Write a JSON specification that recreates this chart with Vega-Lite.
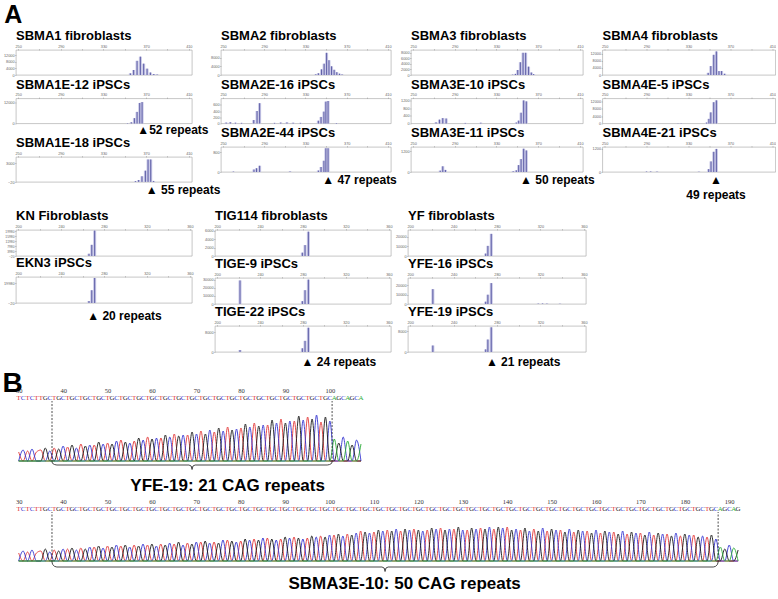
{
"$schema": "https://vega.github.io/schema/vega-lite/v6.json",
"background": "white",
"padding": {"left": 2, "top": 2, "right": 0, "bottom": 0},
"config": {
  "view": {"stroke": "#a0a0a0", "strokeWidth": 0.6},
  "font": "Liberation Sans",
  "title": {"font": "Liberation Sans", "fontWeight": "bold", "fontSize": 13, "anchor": "start", "frame": "group", "offset": 1, "color": "#000"},
  "axis": {"labelFontSize": 3.8, "labelColor": "#666", "tickColor": "#999", "tickSize": 1.5, "tickWidth": 0.5, "domain": false, "grid": false, "labelPadding": 0.5, "labelFlush": false, "labelOverlap": false},
  "text": {"font": "Liberation Sans"}
},
"datasets": {
  "peaks": [
    {"s":"a1","x":355.2,"h":1000},{"s":"a1","x":358.3,"h":3000},{"s":"a1","x":361.5,"h":8500},{"s":"a1","x":364.6,"h":11000},{"s":"a1","x":367.7,"h":6800},{"s":"a1","x":370.9,"h":3800},{"s":"a1","x":374,"h":1500},{"s":"a1","x":377.2,"h":600},{"s":"a1","x":380.3,"h":300},
    {"s":"a2","x":352.5,"h":200},{"s":"a2","x":356.1,"h":700},{"s":"a2","x":359,"h":3000},{"s":"a2","x":361.5,"h":6500},{"s":"a2","x":364,"h":11500},{"s":"a2","x":366.2,"h":12000},
    {"s":"a3","x":360,"h":120},{"s":"a3","x":363,"h":300},{"s":"a3","x":366.1,"h":900},{"s":"a3","x":369.3,"h":1800},{"s":"a3","x":371.8,"h":3600},{"s":"a3","x":374.3,"h":3600},{"s":"a3","x":377,"h":150},
    {"s":"a4","x":340,"h":300},{"s":"a4","x":342.5,"h":800},{"s":"a4","x":345.6,"h":2600},{"s":"a4","x":348.1,"h":5200},{"s":"a4","x":350.5,"h":10200},{"s":"a4","x":352.8,"h":6800},{"s":"a4","x":355.3,"h":4000},{"s":"a4","x":357.8,"h":2400},{"s":"a4","x":360.4,"h":1300},{"s":"a4","x":363,"h":600},{"s":"a4","x":365.5,"h":250},
    {"s":"a5","x":253,"h":30},{"s":"a5","x":257,"h":40},{"s":"a5","x":262,"h":25},{"s":"a5","x":268,"h":20},{"s":"a5","x":279.8,"h":110},{"s":"a5","x":283,"h":400},{"s":"a5","x":285.5,"h":650},{"s":"a5","x":300,"h":20},{"s":"a5","x":306,"h":30},{"s":"a5","x":312,"h":35},{"s":"a5","x":318,"h":25},{"s":"a5","x":325,"h":20},{"s":"a5","x":342.5,"h":90},{"s":"a5","x":345.1,"h":210},{"s":"a5","x":347.9,"h":380},{"s":"a5","x":349.8,"h":700},{"s":"a5","x":351.9,"h":720},{"s":"a5","x":360,"h":15},
    {"s":"a6","x":260,"h":15},{"s":"a6","x":280,"h":100},{"s":"a6","x":282.5,"h":150},{"s":"a6","x":285.5,"h":250},{"s":"a6","x":315,"h":20},{"s":"a6","x":342.5,"h":60},{"s":"a6","x":345.1,"h":200},{"s":"a6","x":347.9,"h":450},{"s":"a6","x":349.8,"h":950},{"s":"a6","x":351.9,"h":950},
    {"s":"a7","x":345.5,"h":120},{"s":"a7","x":348.2,"h":400},{"s":"a7","x":350.4,"h":1800},{"s":"a7","x":352.9,"h":4600},{"s":"a7","x":355.5,"h":8000},{"s":"a7","x":358,"h":8000},{"s":"a7","x":360.8,"h":3000},{"s":"a7","x":363.4,"h":900},{"s":"a7","x":365.6,"h":300},
    {"s":"a8","x":272,"h":60},{"s":"a8","x":275.3,"h":200},{"s":"a8","x":278.5,"h":280},{"s":"a8","x":281.7,"h":260},{"s":"a8","x":300,"h":30},{"s":"a8","x":315,"h":40},{"s":"a8","x":349,"h":50},{"s":"a8","x":351.3,"h":150},{"s":"a8","x":353.6,"h":560},{"s":"a8","x":356.1,"h":1200},{"s":"a8","x":358.6,"h":1150},
    {"s":"a9","x":276,"h":80},{"s":"a9","x":278.5,"h":330},{"s":"a9","x":281,"h":120},{"s":"a9","x":346,"h":40},{"s":"a9","x":349,"h":100},{"s":"a9","x":351.3,"h":400},{"s":"a9","x":353.6,"h":750},{"s":"a9","x":356.1,"h":1350},{"s":"a9","x":358.6,"h":1250},
    {"s":"a10","x":348.8,"h":1200},{"s":"a10","x":351.3,"h":5000},{"s":"a10","x":354.1,"h":11300},{"s":"a10","x":356.6,"h":13200},{"s":"a10","x":359.1,"h":2200},{"s":"a10","x":361.6,"h":2200},{"s":"a10","x":364.5,"h":700},
    {"s":"a11","x":320,"h":120},{"s":"a11","x":323,"h":150},{"s":"a11","x":347.3,"h":500},{"s":"a11","x":349.5,"h":2500},{"s":"a11","x":351.3,"h":6000},{"s":"a11","x":354.1,"h":11500},{"s":"a11","x":356.6,"h":12500},
    {"s":"a12","x":290,"h":20},{"s":"a12","x":294,"h":25},{"s":"a12","x":300,"h":20},{"s":"a12","x":340,"h":15},{"s":"a12","x":349.3,"h":150},{"s":"a12","x":351.5,"h":550},{"s":"a12","x":354.1,"h":1050},{"s":"a12","x":356.6,"h":1200},
    {"s":"k1","x":266,"h":1800},{"s":"k1","x":268.6,"h":9000},{"s":"k1","x":271.3,"h":20500},
    {"s":"k2","x":266,"h":2000},{"s":"k2","x":268.6,"h":13000},{"s":"k2","x":271.3,"h":25500},
    {"s":"t1","x":279.4,"h":800},{"s":"t1","x":281.9,"h":2600},{"s":"t1","x":285,"h":5800},
    {"s":"t2","x":221.3,"h":29000},{"s":"t2","x":279.4,"h":3500},{"s":"t2","x":281.9,"h":17000},{"s":"t2","x":285,"h":30000},
    {"s":"t3","x":221.3,"h":800},{"s":"t3","x":279.4,"h":1500},{"s":"t3","x":281.9,"h":4500},{"s":"t3","x":285,"h":9800},
    {"s":"y1","x":269.6,"h":2500},{"s":"y1","x":271.6,"h":10500},{"s":"y1","x":274.7,"h":23000},
    {"s":"y2","x":220.9,"h":16000},{"s":"y2","x":269.6,"h":2500},{"s":"y2","x":271.6,"h":10000},{"s":"y2","x":274.7,"h":22500},{"s":"y2","x":318,"h":400},{"s":"y2","x":322,"h":500},{"s":"y2","x":326,"h":400},{"s":"y2","x":338,"h":300},
    {"s":"y3","x":220.9,"h":2500},{"s":"y3","x":269.6,"h":1000},{"s":"y3","x":271.6,"h":4800},{"s":"y3","x":274.7,"h":9500}
  ],
  "marks": [
    {"s":"a2","x":366,"t":"\u25b252 repeats"},
    {"s":"a3","x":374,"t":"\u25b2 55 repeats"},
    {"s":"a6","x":350.7,"t":"\u25b2 47 repeats"},
    {"s":"a9","x":357,"t":"\u25b2 50 repeats"},
    {"s":"a12","x":356.3,"t":"\u25b2\n49 repeats"},
    {"s":"k2","x":268.6,"t":"\u25b2 20 repeats"},
    {"s":"t3","x":283,"t":"\u25b2 24 repeats"},
    {"s":"y3","x":274,"t":"\u25b2 21 repeats"}
  ],
  "seq1": [
    {"p":30,"b":"T","h":9},{"p":31,"b":"C","h":11},{"p":32,"b":"T","h":10},{"p":33,"b":"C","h":12},{"p":34,"b":"T","h":9},{"p":35,"b":"T","h":11},{"p":36,"b":"G","h":13},{"p":37,"b":"C","h":10},
    {"p":38,"b":"T","h":13},{"p":39,"b":"G","h":12},{"p":40,"b":"C","h":15},
    {"p":41,"b":"T","h":14},{"p":42,"b":"G","h":16},{"p":43,"b":"C","h":13},
    {"p":44,"b":"T","h":17},{"p":45,"b":"G","h":15},{"p":46,"b":"C","h":16},
    {"p":47,"b":"T","h":16},{"p":48,"b":"G","h":19},{"p":49,"b":"C","h":17},
    {"p":50,"b":"T","h":18},{"p":51,"b":"G","h":17},{"p":52,"b":"C","h":20},
    {"p":53,"b":"T","h":21},{"p":54,"b":"G","h":19},{"p":55,"b":"C","h":18},
    {"p":56,"b":"T","h":20},{"p":57,"b":"G","h":23},{"p":58,"b":"C","h":21},
    {"p":59,"b":"T","h":24},{"p":60,"b":"G","h":22},{"p":61,"b":"C","h":23},
    {"p":62,"b":"T","h":23},{"p":63,"b":"G","h":26},{"p":64,"b":"C","h":24},
    {"p":65,"b":"T","h":27},{"p":66,"b":"G","h":25},{"p":67,"b":"C","h":26},
    {"p":68,"b":"T","h":26},{"p":69,"b":"G","h":29},{"p":70,"b":"C","h":27},
    {"p":71,"b":"T","h":30},{"p":72,"b":"G","h":27},{"p":73,"b":"C","h":31},
    {"p":74,"b":"T","h":29},{"p":75,"b":"G","h":33},{"p":76,"b":"C","h":30},
    {"p":77,"b":"T","h":34},{"p":78,"b":"G","h":31},{"p":79,"b":"C","h":32},
    {"p":80,"b":"T","h":33},{"p":81,"b":"G","h":37},{"p":82,"b":"C","h":34},
    {"p":83,"b":"T","h":38},{"p":84,"b":"G","h":35},{"p":85,"b":"C","h":36},
    {"p":86,"b":"T","h":36},{"p":87,"b":"G","h":41},{"p":88,"b":"C","h":38},
    {"p":89,"b":"T","h":42},{"p":90,"b":"G","h":38},{"p":91,"b":"C","h":40},
    {"p":92,"b":"T","h":40},{"p":93,"b":"G","h":45},{"p":94,"b":"C","h":41},
    {"p":95,"b":"T","h":44},{"p":96,"b":"G","h":42},{"p":97,"b":"C","h":46},
    {"p":98,"b":"T","h":39},{"p":99,"b":"G","h":44},{"p":100,"b":"C","h":40},
    {"p":101,"b":"A","h":22},{"p":102,"b":"G","h":18},{"p":103,"b":"C","h":24},{"p":104,"b":"A","h":20},{"p":105,"b":"G","h":16},{"p":106,"b":"C","h":21},{"p":107,"b":"A","h":17}
  ],
  "seq2": [
    {"p":30,"b":"T","h":8},{"p":31,"b":"C","h":10},{"p":32,"b":"T","h":9},{"p":33,"b":"C","h":11},{"p":34,"b":"T","h":8},{"p":35,"b":"T","h":10},{"p":36,"b":"G","h":12},{"p":37,"b":"C","h":9},
    {"p":38,"b":"T","h":11},{"p":39,"b":"G","h":10},{"p":40,"b":"C","h":12},
    {"p":41,"b":"T","h":12},{"p":42,"b":"G","h":13},{"p":43,"b":"C","h":11},
    {"p":44,"b":"T","h":13},{"p":45,"b":"G","h":12},{"p":46,"b":"C","h":14},
    {"p":47,"b":"T","h":14},{"p":48,"b":"G","h":15},{"p":49,"b":"C","h":13},
    {"p":50,"b":"T","h":15},{"p":51,"b":"G","h":14},{"p":52,"b":"C","h":16},
    {"p":53,"b":"T","h":15},{"p":54,"b":"G","h":16},{"p":55,"b":"C","h":14},
    {"p":56,"b":"T","h":16},{"p":57,"b":"G","h":15},{"p":58,"b":"C","h":17},
    {"p":59,"b":"T","h":16},{"p":60,"b":"G","h":17},{"p":61,"b":"C","h":15},
    {"p":62,"b":"T","h":17},{"p":63,"b":"G","h":16},{"p":64,"b":"C","h":18},
    {"p":65,"b":"T","h":17},{"p":66,"b":"G","h":19},{"p":67,"b":"C","h":16},
    {"p":68,"b":"T","h":18},{"p":69,"b":"G","h":17},{"p":70,"b":"C","h":19},
    {"p":71,"b":"T","h":19},{"p":72,"b":"G","h":20},{"p":73,"b":"C","h":18},
    {"p":74,"b":"T","h":19},{"p":75,"b":"G","h":18},{"p":76,"b":"C","h":21},
    {"p":77,"b":"T","h":21},{"p":78,"b":"G","h":20},{"p":79,"b":"C","h":19},
    {"p":80,"b":"T","h":20},{"p":81,"b":"G","h":22},{"p":82,"b":"C","h":21},
    {"p":83,"b":"T","h":22},{"p":84,"b":"G","h":21},{"p":85,"b":"C","h":23},
    {"p":86,"b":"T","h":23},{"p":87,"b":"G","h":22},{"p":88,"b":"C","h":21},
    {"p":89,"b":"T","h":22},{"p":90,"b":"G","h":24},{"p":91,"b":"C","h":23},
    {"p":92,"b":"T","h":24},{"p":93,"b":"G","h":23},{"p":94,"b":"C","h":22},
    {"p":95,"b":"T","h":23},{"p":96,"b":"G","h":25},{"p":97,"b":"C","h":24},
    {"p":98,"b":"T","h":25},{"p":99,"b":"G","h":24},{"p":100,"b":"C","h":26},
    {"p":101,"b":"T","h":26},{"p":102,"b":"G","h":27},{"p":103,"b":"C","h":25},
    {"p":104,"b":"T","h":27},{"p":105,"b":"G","h":26},{"p":106,"b":"C","h":28},
    {"p":107,"b":"T","h":30},{"p":108,"b":"G","h":29},{"p":109,"b":"C","h":28},
    {"p":110,"b":"T","h":29},{"p":111,"b":"G","h":31},{"p":112,"b":"C","h":30},
    {"p":113,"b":"T","h":31},{"p":114,"b":"G","h":30},{"p":115,"b":"C","h":32},
    {"p":116,"b":"T","h":30},{"p":117,"b":"G","h":32},{"p":118,"b":"C","h":31},
    {"p":119,"b":"T","h":32},{"p":120,"b":"G","h":31},{"p":121,"b":"C","h":30},
    {"p":122,"b":"T","h":31},{"p":123,"b":"G","h":33},{"p":124,"b":"C","h":32},
    {"p":125,"b":"T","h":33},{"p":126,"b":"G","h":31},{"p":127,"b":"C","h":32},
    {"p":128,"b":"T","h":32},{"p":129,"b":"G","h":34},{"p":130,"b":"C","h":31},
    {"p":131,"b":"T","h":31},{"p":132,"b":"G","h":33},{"p":133,"b":"C","h":32},
    {"p":134,"b":"T","h":33},{"p":135,"b":"G","h":32},{"p":136,"b":"C","h":34},
    {"p":137,"b":"T","h":32},{"p":138,"b":"G","h":34},{"p":139,"b":"C","h":33},
    {"p":140,"b":"T","h":34},{"p":141,"b":"G","h":31},{"p":142,"b":"C","h":32},
    {"p":143,"b":"T","h":31},{"p":144,"b":"G","h":33},{"p":145,"b":"C","h":30},
    {"p":146,"b":"T","h":32},{"p":147,"b":"G","h":30},{"p":148,"b":"C","h":33},
    {"p":149,"b":"T","h":30},{"p":150,"b":"G","h":32},{"p":151,"b":"C","h":31},
    {"p":152,"b":"T","h":31},{"p":153,"b":"G","h":29},{"p":154,"b":"C","h":32},
    {"p":155,"b":"T","h":29},{"p":156,"b":"G","h":31},{"p":157,"b":"C","h":30},
    {"p":158,"b":"T","h":30},{"p":159,"b":"G","h":28},{"p":160,"b":"C","h":31},
    {"p":161,"b":"T","h":28},{"p":162,"b":"G","h":30},{"p":163,"b":"C","h":29},
    {"p":164,"b":"T","h":29},{"p":165,"b":"G","h":27},{"p":166,"b":"C","h":30},
    {"p":167,"b":"T","h":27},{"p":168,"b":"G","h":29},{"p":169,"b":"C","h":28},
    {"p":170,"b":"T","h":28},{"p":171,"b":"G","h":26},{"p":172,"b":"C","h":29},
    {"p":173,"b":"T","h":26},{"p":174,"b":"G","h":28},{"p":175,"b":"C","h":27},
    {"p":176,"b":"T","h":27},{"p":177,"b":"G","h":25},{"p":178,"b":"C","h":28},
    {"p":179,"b":"T","h":25},{"p":180,"b":"G","h":27},{"p":181,"b":"C","h":26},
    {"p":182,"b":"T","h":26},{"p":183,"b":"G","h":24},{"p":184,"b":"C","h":25},
    {"p":185,"b":"T","h":24},{"p":186,"b":"G","h":26},{"p":187,"b":"C","h":22},
    {"p":188,"b":"A","h":14},{"p":189,"b":"G","h":12},{"p":190,"b":"C","h":16},{"p":191,"b":"A","h":13},{"p":192,"b":"G","h":11}
  ],
  "bnd1": [{"p":37.5},{"p":100.5}],
  "bnd2": [{"p":37.5},{"p":187.5}],
  "brace1": [{"p":37.5,"y":-1},{"p":37.65,"y":-2.5},{"p":38.1,"y":-3.6},{"p":38.6,"y":-4},{"p":68.3,"y":-4},{"p":68.8,"y":-5},{"p":69,"y":-8.5},{"p":69.2,"y":-5},{"p":69.7,"y":-4},{"p":99.4,"y":-4},{"p":99.9,"y":-3.6},{"p":100.35,"y":-2.5},{"p":100.5,"y":-1}],
  "brace2": [{"p":37.5,"y":-1},{"p":37.65,"y":-3.5},{"p":38.1,"y":-5.4},{"p":38.6,"y":-6},{"p":111.8,"y":-6},{"p":112.3,"y":-7},{"p":112.5,"y":-10.5},{"p":112.7,"y":-7},{"p":113.2,"y":-6},{"p":186.4,"y":-6},{"p":186.9,"y":-5.4},{"p":187.35,"y":-3.5},{"p":187.5,"y":-1}]
},
"vconcat": [
 {
  "title": {"text": "A", "fontSize": 25, "frame": "bounds", "offset": 2, "dx": 1},
  "spacing": 7,
  "vconcat": [
   {"spacing": -20, "hconcat": [
    {"spacing": -0.5, "vconcat": [
     {"width":176,"height":25,"title":"SBMA1 fibroblasts","data":{"name":"peaks"},"transform":[{"filter":{"field":"s","equal":"a1"}}],
      "encoding":{"x":{"field":"x","type":"quantitative","scale":{"domain":[248,413],"nice":false,"zero":false},"axis":{"orient":"top","title":null,"values":[250,270,290,310,330,350,370,390,410],"labelExpr":"datum.value % 40 == 10 ? datum.label : ''"}}},
      "layer":[{"encoding":{"y":{"field":"h","type":"quantitative","scale":{"domain":[0,15000],"nice":false,"zero":false},"axis":{"title":null,"format":"d","values":[0,4000,8000,12000]}},"y2":{"datum":0}},
        "layer":[{"mark":{"type":"rule","color":"#c6c6e6","strokeWidth":3}},{"mark":{"type":"rule","color":"#5e5ea6","strokeWidth":1}}]}]},
     {"width":176,"height":25,"title":"SBMA1E-12 iPSCs","data":{"name":"peaks"},"transform":[{"filter":{"field":"s","equal":"a2"}}],
      "encoding":{"x":{"field":"x","type":"quantitative","scale":{"domain":[248,413],"nice":false,"zero":false},"axis":{"orient":"top","title":null,"values":[250,270,290,310,330,350,370,390,410],"labelExpr":"datum.value % 40 == 10 ? datum.label : ''"}}},
      "layer":[{"encoding":{"y":{"field":"h","type":"quantitative","scale":{"domain":[0,14000],"nice":false,"zero":false},"axis":{"title":null,"format":"d","values":[0,4000,8000,12000]}},"y2":{"datum":0}},
        "layer":[{"mark":{"type":"rule","color":"#c6c6e6","strokeWidth":3}},{"mark":{"type":"rule","color":"#5e5ea6","strokeWidth":1}}]},
       {"data":{"name":"marks"},"transform":[{"filter":{"field":"s","equal":"a2"}}],"mark":{"type":"text","align":"left","baseline":"top","dx":-4.6,"dy":1,"fontSize":12,"fontWeight":"bold","color":"#000"},"encoding":{"y":{"datum":0},"text":{"field":"t"}}}]},
     {"width":176,"height":25,"title":"SBMA1E-18 iPSCs","data":{"name":"peaks"},"transform":[{"filter":{"field":"s","equal":"a3"}}],
      "encoding":{"x":{"field":"x","type":"quantitative","scale":{"domain":[248,413],"nice":false,"zero":false},"axis":{"orient":"top","title":null,"values":[250,270,290,310,330,350,370,390,410],"labelExpr":"datum.value % 40 == 10 ? datum.label : ''"}}},
      "layer":[{"encoding":{"y":{"field":"h","type":"quantitative","scale":{"domain":[-20,4000],"nice":false,"zero":false},"axis":{"title":null,"format":"d","values":[-20,1000,2000,3000]}},"y2":{"datum":0}},
        "layer":[{"mark":{"type":"rule","color":"#c6c6e6","strokeWidth":3}},{"mark":{"type":"rule","color":"#5e5ea6","strokeWidth":1}}]},
       {"data":{"name":"marks"},"transform":[{"filter":{"field":"s","equal":"a3"}}],"mark":{"type":"text","align":"left","baseline":"top","dx":-4.6,"dy":3,"fontSize":12,"fontWeight":"bold","color":"#000"},"encoding":{"y":{"datum":0},"text":{"field":"t"}}}]}
    ]},
    {"spacing": 2, "hconcat": [
    {"spacing": -0.5, "vconcat": [
     {"width":170,"height":25,"title":"SBMA2 fibroblasts","data":{"name":"peaks"},"transform":[{"filter":{"field":"s","equal":"a4"}}],
      "encoding":{"x":{"field":"x","type":"quantitative","scale":{"domain":[248,413],"nice":false,"zero":false},"axis":{"orient":"top","title":null,"values":[250,270,290,310,330,350,370,390,410],"labelExpr":"datum.value % 40 == 10 ? datum.label : ''"}}},
      "layer":[{"encoding":{"y":{"field":"h","type":"quantitative","scale":{"domain":[0,11500],"nice":false,"zero":false},"axis":{"title":null,"format":"d","values":[0,4000,8000]}},"y2":{"datum":0}},
        "layer":[{"mark":{"type":"rule","color":"#c6c6e6","strokeWidth":3}},{"mark":{"type":"rule","color":"#5e5ea6","strokeWidth":1}}]}]},
     {"width":170,"height":25,"title":"SBMA2E-16 iPSCs","data":{"name":"peaks"},"transform":[{"filter":{"field":"s","equal":"a5"}}],
      "encoding":{"x":{"field":"x","type":"quantitative","scale":{"domain":[248,413],"nice":false,"zero":false},"axis":{"orient":"top","title":null,"values":[250,270,290,310,330,350,370,390,410],"labelExpr":"datum.value % 40 == 10 ? datum.label : ''"}}},
      "layer":[{"encoding":{"y":{"field":"h","type":"quantitative","scale":{"domain":[0,800],"nice":false,"zero":false},"axis":{"title":null,"format":"d","values":[0,200,400,600]}},"y2":{"datum":0}},
        "layer":[{"mark":{"type":"rule","color":"#c6c6e6","strokeWidth":3}},{"mark":{"type":"rule","color":"#5e5ea6","strokeWidth":1}}]}]},
     {"width":170,"height":25,"title":"SBMA2E-44 iPSCs","data":{"name":"peaks"},"transform":[{"filter":{"field":"s","equal":"a6"}}],
      "encoding":{"x":{"field":"x","type":"quantitative","scale":{"domain":[248,413],"nice":false,"zero":false},"axis":{"orient":"top","title":null,"values":[250,270,290,310,330,350,370,390,410],"labelExpr":"datum.value % 40 == 10 ? datum.label : ''"}}},
      "layer":[{"encoding":{"y":{"field":"h","type":"quantitative","scale":{"domain":[0,1000],"nice":false,"zero":false},"axis":{"title":null,"format":"d","values":[0,200,400,600,800]}},"y2":{"datum":0}},
        "layer":[{"mark":{"type":"rule","color":"#c6c6e6","strokeWidth":3}},{"mark":{"type":"rule","color":"#5e5ea6","strokeWidth":1}}]},
       {"data":{"name":"marks"},"transform":[{"filter":{"field":"s","equal":"a6"}}],"mark":{"type":"text","align":"left","baseline":"top","dx":-4.6,"dy":3,"fontSize":12,"fontWeight":"bold","color":"#000"},"encoding":{"y":{"datum":0},"text":{"field":"t"}}}]}
    ]},
    {"spacing": -5.5, "hconcat": [
    {"spacing": -0.5, "vconcat": [
     {"width":172,"height":25,"title":"SBMA3 fibroblasts","data":{"name":"peaks"},"transform":[{"filter":{"field":"s","equal":"a7"}}],
      "encoding":{"x":{"field":"x","type":"quantitative","scale":{"domain":[248,413],"nice":false,"zero":false},"axis":{"orient":"top","title":null,"values":[250,270,290,310,330,350,370,390,410],"labelExpr":"datum.value % 40 == 10 ? datum.label : ''"}}},
      "layer":[{"encoding":{"y":{"field":"h","type":"quantitative","scale":{"domain":[0,9000],"nice":false,"zero":false},"axis":{"title":null,"format":"d","values":[0,2000,4000,6000,8000]}},"y2":{"datum":0}},
        "layer":[{"mark":{"type":"rule","color":"#c6c6e6","strokeWidth":3}},{"mark":{"type":"rule","color":"#5e5ea6","strokeWidth":1}}]}]},
     {"width":172,"height":25,"title":"SBMA3E-10 iPSCs","data":{"name":"peaks"},"transform":[{"filter":{"field":"s","equal":"a8"}}],
      "encoding":{"x":{"field":"x","type":"quantitative","scale":{"domain":[248,413],"nice":false,"zero":false},"axis":{"orient":"top","title":null,"values":[250,270,290,310,330,350,370,390,410],"labelExpr":"datum.value % 40 == 10 ? datum.label : ''"}}},
      "layer":[{"encoding":{"y":{"field":"h","type":"quantitative","scale":{"domain":[0,1300],"nice":false,"zero":false},"axis":{"title":null,"format":"d","values":[0,400,800,1200]}},"y2":{"datum":0}},
        "layer":[{"mark":{"type":"rule","color":"#c6c6e6","strokeWidth":3}},{"mark":{"type":"rule","color":"#5e5ea6","strokeWidth":1}}]}]},
     {"width":172,"height":25,"title":"SBMA3E-11 iPSCs","data":{"name":"peaks"},"transform":[{"filter":{"field":"s","equal":"a9"}}],
      "encoding":{"x":{"field":"x","type":"quantitative","scale":{"domain":[248,413],"nice":false,"zero":false},"axis":{"orient":"top","title":null,"values":[250,270,290,310,330,350,370,390,410],"labelExpr":"datum.value % 40 == 10 ? datum.label : ''"}}},
      "layer":[{"encoding":{"y":{"field":"h","type":"quantitative","scale":{"domain":[0,1450],"nice":false,"zero":false},"axis":{"title":null,"format":"d","values":[0,400,800,1200]}},"y2":{"datum":0}},
        "layer":[{"mark":{"type":"rule","color":"#c6c6e6","strokeWidth":3}},{"mark":{"type":"rule","color":"#5e5ea6","strokeWidth":1}}]},
       {"data":{"name":"marks"},"transform":[{"filter":{"field":"s","equal":"a9"}}],"mark":{"type":"text","align":"left","baseline":"top","dx":-4.6,"dy":3,"fontSize":12,"fontWeight":"bold","color":"#000"},"encoding":{"y":{"datum":0},"text":{"field":"t"}}}]}
    ]},
    {"spacing": -0.5, "vconcat": [
     {"width":173,"height":25,"title":"SBMA4 fibroblasts","data":{"name":"peaks"},"transform":[{"filter":{"field":"s","equal":"a10"}}],
      "encoding":{"x":{"field":"x","type":"quantitative","scale":{"domain":[248,413],"nice":false,"zero":false},"axis":{"orient":"top","title":null,"values":[250,270,290,310,330,350,370,390,410],"labelExpr":"datum.value % 40 == 10 ? datum.label : ''"}}},
      "layer":[{"encoding":{"y":{"field":"h","type":"quantitative","scale":{"domain":[0,14000],"nice":false,"zero":false},"axis":{"title":null,"format":"d","values":[0,4000,8000,12000]}},"y2":{"datum":0}},
        "layer":[{"mark":{"type":"rule","color":"#c6c6e6","strokeWidth":3}},{"mark":{"type":"rule","color":"#5e5ea6","strokeWidth":1}}]}]},
     {"width":173,"height":25,"title":"SBMA4E-5 iPSCs","data":{"name":"peaks"},"transform":[{"filter":{"field":"s","equal":"a11"}}],
      "encoding":{"x":{"field":"x","type":"quantitative","scale":{"domain":[248,413],"nice":false,"zero":false},"axis":{"orient":"top","title":null,"values":[250,270,290,310,330,350,370,390,410],"labelExpr":"datum.value % 40 == 10 ? datum.label : ''"}}},
      "layer":[{"encoding":{"y":{"field":"h","type":"quantitative","scale":{"domain":[0,13500],"nice":false,"zero":false},"axis":{"title":null,"format":"d","values":[0,4000,8000,12000]}},"y2":{"datum":0}},
        "layer":[{"mark":{"type":"rule","color":"#c6c6e6","strokeWidth":3}},{"mark":{"type":"rule","color":"#5e5ea6","strokeWidth":1}}]}]},
     {"width":173,"height":25,"title":"SBMA4E-21 iPSCs","data":{"name":"peaks"},"transform":[{"filter":{"field":"s","equal":"a12"}}],
      "encoding":{"x":{"field":"x","type":"quantitative","scale":{"domain":[248,413],"nice":false,"zero":false},"axis":{"orient":"top","title":null,"values":[250,270,290,310,330,350,370,390,410],"labelExpr":"datum.value % 40 == 10 ? datum.label : ''"}}},
      "layer":[{"encoding":{"y":{"field":"h","type":"quantitative","scale":{"domain":[0,1300],"nice":false,"zero":false},"axis":{"title":null,"format":"d","values":[0,400,800,1200]}},"y2":{"datum":0}},
        "layer":[{"mark":{"type":"rule","color":"#c6c6e6","strokeWidth":3}},{"mark":{"type":"rule","color":"#5e5ea6","strokeWidth":1}}]},
       {"data":{"name":"marks"},"transform":[{"filter":{"field":"s","equal":"a12"}}],"mark":{"type":"text","align":"center","baseline":"top","dy":3,"fontSize":12,"fontWeight":"bold","color":"#000","lineBreak":"\n","lineHeight":15},"encoding":{"y":{"datum":0},"text":{"field":"t"}}}]}
    ]}
    ]}
    ]}
   ]},
   {"spacing": 8, "hconcat": [
    {"spacing": -2, "vconcat": [
     {"width":176,"height":26,"title":"KN Fibroblasts","data":{"name":"peaks"},"transform":[{"filter":{"field":"s","equal":"k1"}}],
      "encoding":{"x":{"field":"x","type":"quantitative","scale":{"domain":[198,362],"nice":false,"zero":false},"axis":{"orient":"top","title":null,"values":[200,220,240,260,280,300,320,340,360],"labelExpr":"datum.value % 40 == 0 ? datum.label : ''"}}},
      "layer":[{"encoding":{"y":{"field":"h","type":"quantitative","scale":{"domain":[-20,21000],"nice":false,"zero":false},"axis":{"title":null,"format":"d","labelFontSize":3.3,"values":[-20,3980,7980,11980,15980,19980]}},"y2":{"datum":0}},
        "layer":[{"mark":{"type":"rule","color":"#c6c6e6","strokeWidth":3}},{"mark":{"type":"rule","color":"#5e5ea6","strokeWidth":1}}]}]},
     {"width":176,"height":26,"title":"EKN3 iPSCs","data":{"name":"peaks"},"transform":[{"filter":{"field":"s","equal":"k2"}}],
      "encoding":{"x":{"field":"x","type":"quantitative","scale":{"domain":[198,362],"nice":false,"zero":false},"axis":{"orient":"top","title":null,"values":[200,220,240,260,280,300,320,340,360],"labelExpr":"datum.value % 40 == 0 ? datum.label : ''"}}},
      "layer":[{"encoding":{"y":{"field":"h","type":"quantitative","scale":{"domain":[-20,26500],"nice":false,"zero":false},"axis":{"title":null,"format":"d","values":[-20,9980,19980]}},"y2":{"datum":0}},
        "layer":[{"mark":{"type":"rule","color":"#c6c6e6","strokeWidth":3}},{"mark":{"type":"rule","color":"#5e5ea6","strokeWidth":1}}]},
       {"data":{"name":"marks"},"transform":[{"filter":{"field":"s","equal":"k2"}}],"mark":{"type":"text","align":"left","baseline":"top","dx":-4.6,"dy":8,"fontSize":12,"fontWeight":"bold","color":"#000"},"encoding":{"y":{"datum":0},"text":{"field":"t"}}}]}
    ]},
    {"spacing": 2, "hconcat": [
    {"spacing": -2, "vconcat": [
     {"width":176,"height":26,"title":"TIG114 fibroblasts","data":{"name":"peaks"},"transform":[{"filter":{"field":"s","equal":"t1"}}],
      "encoding":{"x":{"field":"x","type":"quantitative","scale":{"domain":[198,362],"nice":false,"zero":false},"axis":{"orient":"top","title":null,"values":[200,220,240,260,280,300,320,340,360],"labelExpr":"datum.value % 40 == 0 ? datum.label : ''"}}},
      "layer":[{"encoding":{"y":{"field":"h","type":"quantitative","scale":{"domain":[0,6200],"nice":false,"zero":false},"axis":{"title":null,"format":"d","values":[0,2000,4000,6000]}},"y2":{"datum":0}},
        "layer":[{"mark":{"type":"rule","color":"#c6c6e6","strokeWidth":3}},{"mark":{"type":"rule","color":"#5e5ea6","strokeWidth":1}}]}]},
     {"width":176,"height":26,"title":"TIGE-9 iPSCs","data":{"name":"peaks"},"transform":[{"filter":{"field":"s","equal":"t2"}}],
      "encoding":{"x":{"field":"x","type":"quantitative","scale":{"domain":[198,362],"nice":false,"zero":false},"axis":{"orient":"top","title":null,"values":[200,220,240,260,280,300,320,340,360],"labelExpr":"datum.value % 40 == 0 ? datum.label : ''"}}},
      "layer":[{"encoding":{"y":{"field":"h","type":"quantitative","scale":{"domain":[0,32000],"nice":false,"zero":false},"axis":{"title":null,"format":"d","values":[0,10000,20000,30000]}},"y2":{"datum":0}},
        "layer":[{"mark":{"type":"rule","color":"#c6c6e6","strokeWidth":3}},{"mark":{"type":"rule","color":"#5e5ea6","strokeWidth":1}}]}]},
     {"width":176,"height":26,"title":"TIGE-22 iPSCs","data":{"name":"peaks"},"transform":[{"filter":{"field":"s","equal":"t3"}}],
      "encoding":{"x":{"field":"x","type":"quantitative","scale":{"domain":[198,362],"nice":false,"zero":false},"axis":{"orient":"top","title":null,"values":[200,220,240,260,280,300,320,340,360],"labelExpr":"datum.value % 40 == 0 ? datum.label : ''"}}},
      "layer":[{"encoding":{"y":{"field":"h","type":"quantitative","scale":{"domain":[0,10500],"nice":false,"zero":false},"axis":{"title":null,"format":"d","values":[0,4000,8000]}},"y2":{"datum":0}},
        "layer":[{"mark":{"type":"rule","color":"#c6c6e6","strokeWidth":3}},{"mark":{"type":"rule","color":"#5e5ea6","strokeWidth":1}}]},
       {"data":{"name":"marks"},"transform":[{"filter":{"field":"s","equal":"t3"}}],"mark":{"type":"text","align":"left","baseline":"top","dx":-4.6,"dy":5,"fontSize":12,"fontWeight":"bold","color":"#000"},"encoding":{"y":{"datum":0},"text":{"field":"t"}}}]}
    ]},
    {"spacing": -2, "vconcat": [
     {"width":178,"height":26,"title":"YF fibroblasts","data":{"name":"peaks"},"transform":[{"filter":{"field":"s","equal":"y1"}}],
      "encoding":{"x":{"field":"x","type":"quantitative","scale":{"domain":[198,362],"nice":false,"zero":false},"axis":{"orient":"top","title":null,"values":[200,220,240,260,280,300,320,340,360],"labelExpr":"datum.value % 40 == 0 ? datum.label : ''"}}},
      "layer":[{"encoding":{"y":{"field":"h","type":"quantitative","scale":{"domain":[0,27000],"nice":false,"zero":false},"axis":{"title":null,"format":"d","values":[0,10000,20000]}},"y2":{"datum":0}},
        "layer":[{"mark":{"type":"rule","color":"#c6c6e6","strokeWidth":3}},{"mark":{"type":"rule","color":"#5e5ea6","strokeWidth":1}}]}]},
     {"width":178,"height":26,"title":"YFE-16 iPSCs","data":{"name":"peaks"},"transform":[{"filter":{"field":"s","equal":"y2"}}],
      "encoding":{"x":{"field":"x","type":"quantitative","scale":{"domain":[198,362],"nice":false,"zero":false},"axis":{"orient":"top","title":null,"values":[200,220,240,260,280,300,320,340,360],"labelExpr":"datum.value % 40 == 0 ? datum.label : ''"}}},
      "layer":[{"encoding":{"y":{"field":"h","type":"quantitative","scale":{"domain":[0,28000],"nice":false,"zero":false},"axis":{"title":null,"format":"d","values":[0,10000,20000]}},"y2":{"datum":0}},
        "layer":[{"mark":{"type":"rule","color":"#c6c6e6","strokeWidth":3}},{"mark":{"type":"rule","color":"#5e5ea6","strokeWidth":1}}]}]},
     {"width":178,"height":26,"title":"YFE-19 iPSCs","data":{"name":"peaks"},"transform":[{"filter":{"field":"s","equal":"y3"}}],
      "encoding":{"x":{"field":"x","type":"quantitative","scale":{"domain":[198,362],"nice":false,"zero":false},"axis":{"orient":"top","title":null,"values":[200,220,240,260,280,300,320,340,360],"labelExpr":"datum.value % 40 == 0 ? datum.label : ''"}}},
      "layer":[{"encoding":{"y":{"field":"h","type":"quantitative","scale":{"domain":[0,10000],"nice":false,"zero":false},"axis":{"title":null,"format":"d","values":[0,2000,4000,6000,8000]}},"y2":{"datum":0}},
        "layer":[{"mark":{"type":"rule","color":"#c6c6e6","strokeWidth":3}},{"mark":{"type":"rule","color":"#5e5ea6","strokeWidth":1}}]},
       {"data":{"name":"marks"},"transform":[{"filter":{"field":"s","equal":"y3"}}],"mark":{"type":"text","align":"left","baseline":"top","dx":-4.6,"dy":5,"fontSize":12,"fontWeight":"bold","color":"#000"},"encoding":{"y":{"datum":0},"text":{"field":"t"}}}]}
    ]}
    ]}
   ]}
  ]
 },
 {
  "title": {"text": "B", "fontSize": 28, "frame": "bounds", "offset": -11, "dx": -13},
  "spacing": 3,
  "vconcat": [
   {"width":349,"height":101,"view":{"stroke":null},"data":{"name":"seq1"},
    "encoding":{"x":{"field":"p","type":"quantitative","scale":{"domain":[29.4,107.9],"nice":false,"zero":false},"axis":{"orient":"top","title":null,"values":[30,40,50,60,70,80,90,100],"ticks":false,"labelFont":"Liberation Serif","labelFontSize":6.5,"labelColor":"#333","labelPadding":1}}},
    "layer":[
     {"transform":[{"impute":"h","key":"p","groupby":["b"],"value":0}],
      "mark":{"type":"line","interpolate":"monotone","strokeWidth":0.9},
      "encoding":{"y":{"field":"h","type":"quantitative","scale":{"domain":[-34,67],"nice":false,"zero":false},"axis":null},
        "color":{"field":"b","type":"nominal","scale":{"domain":["A","C","G","T"],"range":["#2fae3a","#3434d0","#1a1a1a","#e23636"]},"legend":null}}},
     {"mark":{"type":"text","font":"Liberation Serif","fontSize":7},"encoding":{"y":{"datum":63},"text":{"field":"b"},"color":{"field":"b","type":"nominal","legend":null}}},
     {"data":{"name":"bnd1"},"mark":{"type":"rule","strokeDash":[2,1.5],"color":"#222","strokeWidth":0.8},"encoding":{"y":{"datum":-1},"y2":{"datum":60}}},
     {"data":{"name":"brace1"},"mark":{"type":"line","color":"#333","strokeWidth":0.9},"encoding":{"y":{"field":"y","type":"quantitative"}}},
     {"data":{"values":[{"p":77,"t":"YFE-19: 21 CAG repeats"}]},"mark":{"type":"text","fontSize":17,"fontWeight":"bold","color":"#000"},"encoding":{"y":{"datum":-24.5},"text":{"field":"t"}}}
    ]},
   {"width":727,"height":89,"view":{"stroke":null},"data":{"name":"seq2"},
    "encoding":{"x":{"field":"p","type":"quantitative","scale":{"domain":[29.4,193.1],"nice":false,"zero":false},"axis":{"orient":"top","title":null,"values":[30,40,50,60,70,80,90,100,110,120,130,140,150,160,170,180,190],"ticks":false,"labelFont":"Liberation Serif","labelFontSize":6.5,"labelColor":"#333","labelPadding":1}}},
    "layer":[
     {"transform":[{"impute":"h","key":"p","groupby":["b"],"value":0}],
      "mark":{"type":"line","interpolate":"monotone","strokeWidth":0.9},
      "encoding":{"y":{"field":"h","type":"quantitative","scale":{"domain":[-33,56],"nice":false,"zero":false},"axis":null},
        "color":{"field":"b","type":"nominal","scale":{"domain":["A","C","G","T"],"range":["#2fae3a","#3434d0","#1a1a1a","#e23636"]},"legend":null}}},
     {"mark":{"type":"text","font":"Liberation Serif","fontSize":7},"encoding":{"y":{"datum":52.5},"text":{"field":"b"},"color":{"field":"b","type":"nominal","legend":null}}},
     {"data":{"name":"bnd2"},"mark":{"type":"rule","strokeDash":[2,1.5],"color":"#222","strokeWidth":0.8},"encoding":{"y":{"datum":-1},"y2":{"datum":49}}},
     {"data":{"name":"brace2"},"mark":{"type":"line","color":"#333","strokeWidth":0.9},"encoding":{"y":{"field":"y","type":"quantitative"}}},
     {"data":{"values":[{"p":116.9,"t":"SBMA3E-10: 50 CAG repeats"}]},"mark":{"type":"text","fontSize":17,"fontWeight":"bold","color":"#000"},"encoding":{"y":{"datum":-22.5},"text":{"field":"t"}}}
    ]}
  ]
 }
],
"spacing": 1
}
